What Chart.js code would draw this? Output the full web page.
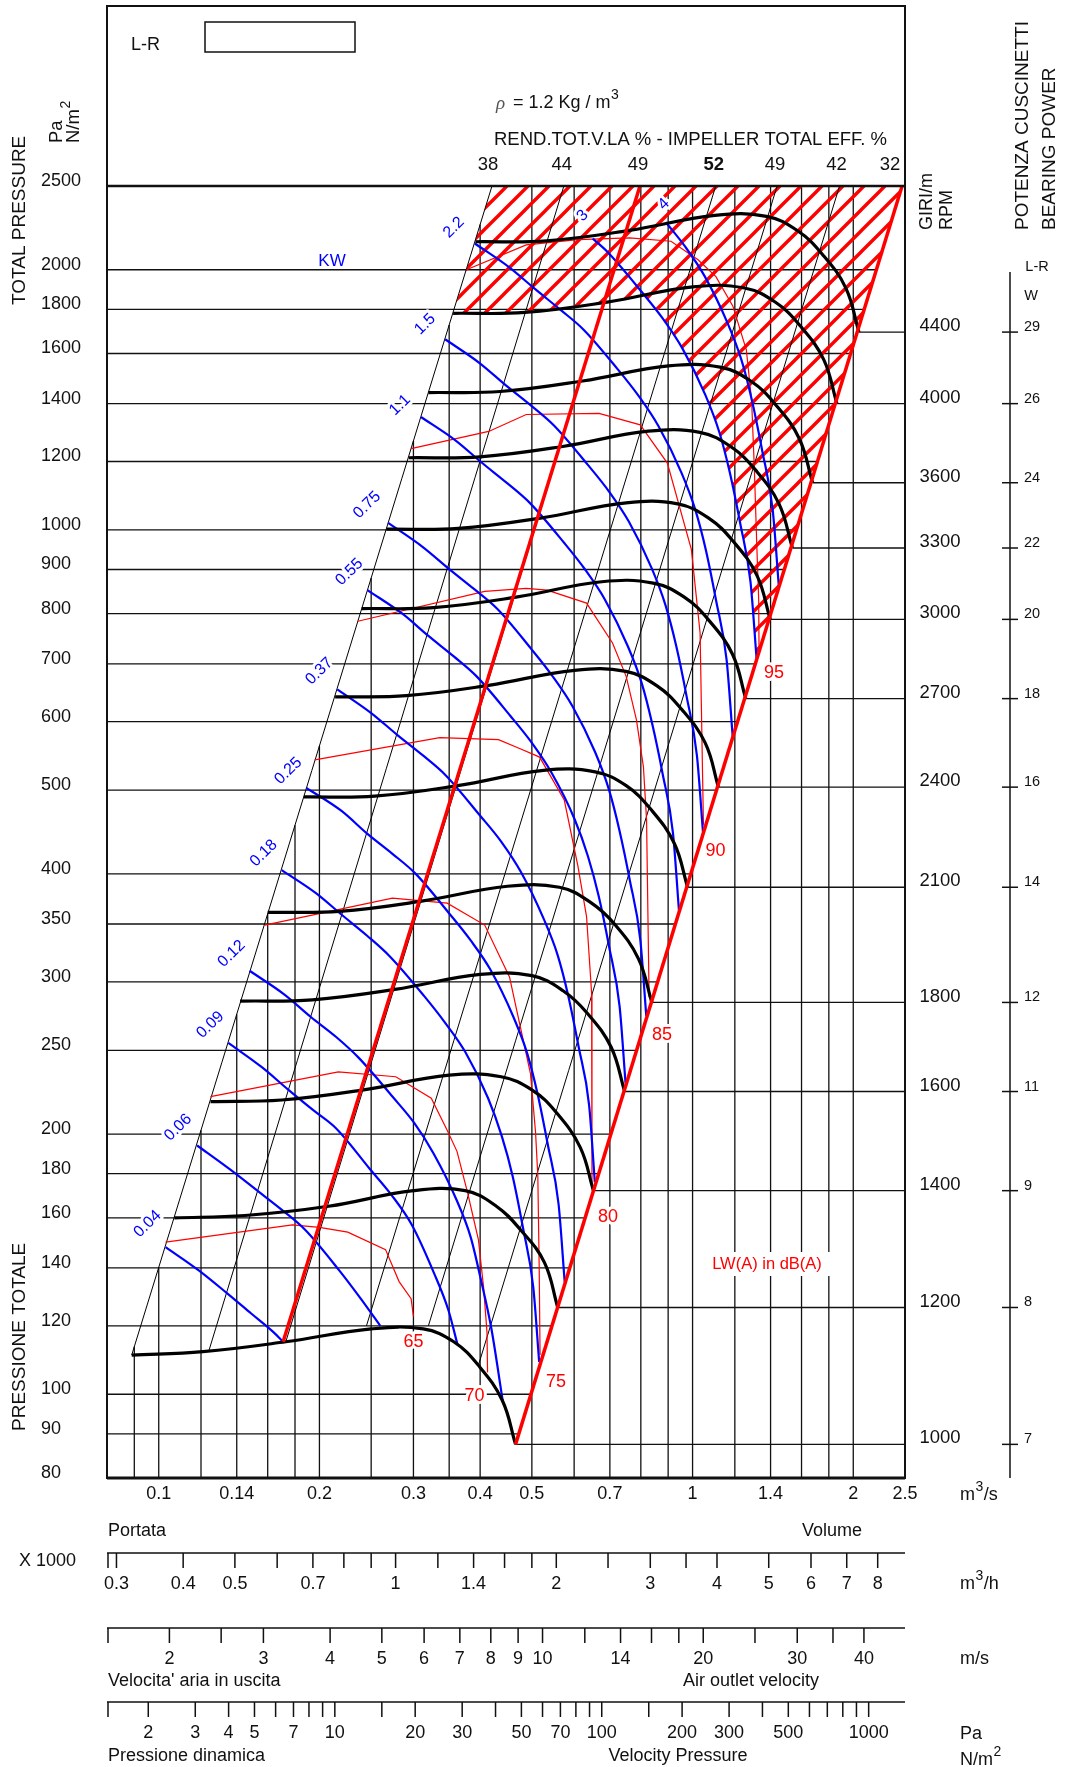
<!DOCTYPE html>
<html>
<head>
<meta charset="utf-8">
<script src="https://cdn.jsdelivr.net/npm/chart.js@4.4.0/dist/chart.umd.min.js"></script>
<style>
  html, body { margin: 0; padding: 0; background: #fff; }
  canvas { display: block; }
</style>
</head>
<body>
<canvas id="fan" width="1067" height="1767"></canvas>
<script>
// --- Data ---

const flowMin = 0.08, flowMax = 2.5, paMin = 80, paMax = 2500;

const paTicks = [80, 90, 100, 120, 140, 160, 180, 200, 250, 300, 350, 400, 500, 600, 700, 800, 900, 1000, 1200, 1400, 1600, 1800, 2000, 2500];
const flowGrid = [0.09, 0.1, 0.12, 0.14, 0.16, 0.18, 0.2, 0.25, 0.3, 0.35, 0.4, 0.5, 0.6, 0.7, 0.8, 0.9, 1, 1.2, 1.4, 1.6, 1.8, 2];
const flowLabels = [0.1, 0.14, 0.2, 0.3, 0.4, 0.5, 0.7, 1, 1.4, 2, 2.5];

// fan curves, one per speed (m3/s, Pa)
const rpm = [1000, 1200, 1400, 1600, 1800, 2100, 2400, 2700, 3000, 3300, 3600, 4000, 4400];
const bearingW = [7, 8, 9, 11, 12, 14, 16, 18, 20, 22, 24, 26, 29];
const curveFlow = [
  [0.089, 0.121, 0.173, 0.250, 0.313, 0.357, 0.397, 0.440, 0.466],
  [0.107, 0.145, 0.208, 0.300, 0.375, 0.429, 0.476, 0.528, 0.559],
  [0.125, 0.170, 0.242, 0.350, 0.438, 0.500, 0.555, 0.616, 0.652],
  [0.142, 0.194, 0.277, 0.400, 0.500, 0.572, 0.635, 0.704, 0.746],
  [0.160, 0.218, 0.311, 0.450, 0.563, 0.643, 0.714, 0.792, 0.839],
  [0.187, 0.254, 0.363, 0.526, 0.657, 0.751, 0.833, 0.924, 0.979],
  [0.214, 0.291, 0.415, 0.601, 0.750, 0.858, 0.952, 1.056, 1.118],
  [0.240, 0.327, 0.467, 0.676, 0.844, 0.965, 1.071, 1.188, 1.258],
  [0.267, 0.364, 0.519, 0.751, 0.938, 1.072, 1.190, 1.320, 1.398],
  [0.294, 0.400, 0.571, 0.826, 1.032, 1.180, 1.309, 1.452, 1.538],
  [0.320, 0.436, 0.622, 0.901, 1.126, 1.287, 1.428, 1.584, 1.678],
  [0.356, 0.485, 0.692, 1.001, 1.251, 1.430, 1.586, 1.760, 1.864],
  [0.392, 0.533, 0.761, 1.101, 1.376, 1.573, 1.745, 1.936, 2.050]
];
const curvePa = [
  [111, 112, 115, 119, 119, 115, 108, 98.4, 87.5],
  [160, 161, 165, 172, 172, 165, 155, 142, 126],
  [218, 219, 225, 234, 233, 225, 212, 193, 172],
  [285, 286, 294, 306, 305, 293, 276, 252, 224],
  [361, 362, 372, 387, 386, 371, 350, 319, 284],
  [491, 492, 506, 527, 525, 506, 476, 434, 386],
  [641, 643, 661, 688, 686, 660, 621, 567, 504],
  [811, 813, 836, 871, 868, 836, 787, 718, 638],
  [1002, 1004, 1032, 1075, 1072, 1032, 971, 886, 788],
  [1212, 1215, 1249, 1301, 1297, 1248, 1175, 1072, 953],
  [1442, 1446, 1487, 1548, 1543, 1486, 1398, 1276, 1134],
  [1781, 1785, 1835, 1911, 1905, 1834, 1726, 1575, 1400],
  [2155, 2160, 2221, 2312, 2306, 2219, 2089, 1906, 1694]
];

// absorbed power lines (kW)
const kw = ['0.04', '0.06', '0.09', '0.12', '0.18', '0.25', '0.37', '0.55', '0.75', '1.1', '1.5', '2.2', '3', '4'];
const kwFlow = [
  [0.103, 0.119, 0.134, 0.149, 0.164, 0.171],
  [0.118, 0.136, 0.153, 0.171, 0.188, 0.218, 0.239, 0.260],
  [0.135, 0.156, 0.175, 0.195, 0.215, 0.249, 0.273, 0.298, 0.328, 0.349, 0.363],
  [0.148, 0.172, 0.193, 0.215, 0.237, 0.274, 0.301, 0.327, 0.361, 0.384, 0.401, 0.420, 0.441],
  [0.170, 0.197, 0.221, 0.246, 0.271, 0.314, 0.344, 0.375, 0.414, 0.439, 0.460, 0.481, 0.503, 0.516],
  [0.189, 0.220, 0.246, 0.274, 0.303, 0.350, 0.384, 0.418, 0.462, 0.490, 0.513, 0.536, 0.561, 0.576],
  [0.216, 0.250, 0.280, 0.313, 0.345, 0.399, 0.438, 0.477, 0.526, 0.559, 0.585, 0.612, 0.640, 0.656],
  [0.246, 0.286, 0.320, 0.357, 0.394, 0.455, 0.500, 0.544, 0.601, 0.637, 0.667, 0.698, 0.730, 0.749],
  [0.269, 0.312, 0.350, 0.390, 0.431, 0.498, 0.546, 0.595, 0.657, 0.697, 0.729, 0.763, 0.798, 0.819],
  [0.310, 0.360, 0.403, 0.450, 0.496, 0.574, 0.629, 0.685, 0.756, 0.803, 0.840, 0.879, 0.919, 0.943],
  [0.344, 0.399, 0.447, 0.499, 0.550, 0.636, 0.698, 0.760, 0.839, 0.890, 0.932, 0.975, 1.019, 1.046],
  [0.391, 0.453, 0.508, 0.566, 0.625, 0.723, 0.793, 0.863, 0.953, 1.012, 1.059, 1.107, 1.158, 1.189],
  [0.650, 0.693, 0.801, 0.879, 0.957, 1.057, 1.122, 1.174, 1.228, 1.284, 1.318],
  [0.891, 0.968, 1.054, 1.163, 1.235, 1.292, 1.351, 1.413, 1.451]
];
const kwPa = [
  [148, 139, 131, 124, 118, 115],
  [194, 182, 172, 163, 155, 139, 129, 120],
  [255, 239, 225, 213, 203, 182, 170, 157, 138, 125, 114],
  [309, 290, 273, 259, 245, 221, 206, 190, 168, 152, 136, 119, 98.2],
  [404, 380, 358, 339, 321, 289, 269, 249, 220, 199, 179, 156, 133, 109],
  [503, 473, 445, 422, 400, 360, 335, 310, 273, 248, 222, 194, 166, 135],
  [654, 614, 579, 548, 520, 468, 436, 402, 355, 322, 289, 252, 216, 176],
  [852, 800, 754, 714, 677, 610, 567, 524, 463, 419, 377, 329, 281, 229],
  [1019, 956, 901, 854, 810, 729, 678, 626, 553, 501, 450, 393, 336, 274],
  [1351, 1269, 1196, 1132, 1074, 967, 900, 831, 734, 665, 597, 522, 446, 363],
  [1662, 1560, 1470, 1392, 1321, 1190, 1107, 1022, 902, 818, 734, 641, 548, 447],
  [2145, 2014, 1898, 1797, 1705, 1536, 1428, 1319, 1165, 1055, 948, 828, 708, 577],
  [2173, 2097, 1889, 1757, 1622, 1432, 1298, 1166, 1018, 870, 710],
  [2270, 2128, 1965, 1735, 1572, 1412, 1233, 1054, 860]
];

// sound power lines LW(A) dB(A)
const dbA = [65, 70, 75, 80, 85, 90, 95];
const dbFlow = [
  [0.103, 0.178, 0.200, 0.226, 0.266, 0.282, 0.297, 0.300],
  [0.125, 0.217, 0.278, 0.324, 0.347, 0.362, 0.379, 0.397, 0.406, 0.412, 0.413],
  [0.158, 0.274, 0.347, 0.408, 0.454, 0.497, 0.508, 0.513, 0.516, 0.518],
  [0.196, 0.336, 0.433, 0.473, 0.517, 0.575, 0.610, 0.633, 0.647, 0.648],
  [0.236, 0.408, 0.488, 0.534, 0.633, 0.708, 0.751, 0.785, 0.809, 0.820, 0.829],
  [0.297, 0.415, 0.488, 0.668, 0.798, 0.897, 0.995, 1.033, 1.048],
  [0.377, 0.488, 0.610, 0.762, 0.911, 1.024, 1.106, 1.190, 1.261, 1.290, 1.305, 1.320, 1.330, 1.332]
];
const dbPa = [
  [150, 157, 156, 154, 147, 135, 129, 123],
  [221, 236, 233, 220, 202, 191, 171, 151, 133, 118, 106],
  [349, 375, 370, 349, 304, 235, 201, 179, 141, 111],
  [542, 575, 572, 559, 546, 487, 408, 357, 291, 173],
  [784, 849, 856, 852, 823, 740, 677, 603, 532, 462, 288],
  [1242, 1300, 1360, 1364, 1323, 1195, 949, 760, 456],
  [2000, 2137, 2167, 2177, 2158, 2054, 1964, 1815, 1616, 1413, 1184, 949, 830, 730]
];

// impeller total efficiency lines (bottom / top ends)
const effValues = [38, 44, 49, 52, 49, 42, 32];
const effFlow = [[0.089, 0.421], [0.124, 0.574], [0.173, 0.797], [0.245, 1.105], [0.320, 1.44], [0.397, 1.885], [0.466, 2.469]];
const effPa = [[111, 2500], [112, 2500], [115, 2500], [120, 2500], [120, 2500], [108, 2500], [87.5, 2500]];

// thick red system lines
const systemFlow = [[0.171, 0.797], [0.466, 2.469]];
const systemPa = [[115, 2500], [87.5, 2500]];

// hatched (not permitted) zone outline
const hatchFlow = [0.356, 0.421, 2.469, 1.318, 1.284, 1.228, 1.174, 1.122, 1.057, 0.957, 0.879, 0.81, 0.692, 0.485, 0.356];
const hatchPa = [1781, 2500, 2500, 712, 870, 1018, 1166, 1298, 1432, 1622, 1757, 1870, 1835, 1785, 1781];

// secondary scales under the chart
const volTicks = [0.3, 0.4, 0.5, 0.6, 0.7, 0.8, 0.9, 1, 1.2, 1.4, 1.6, 1.8, 2, 2.5, 3, 3.5, 4, 5, 6, 7, 8];
const volLabels = [0.3, 0.4, 0.5, 0.7, 1, 1.4, 2, 3, 4, 5, 6, 7, 8];
const velTicks = [2, 2.5, 3, 4, 5, 6, 7, 8, 9, 10, 12, 14, 16, 18, 20, 25, 30, 35, 40];
const velLabels = [2, 3, 4, 5, 6, 7, 8, 9, 10, 14, 20, 30, 40];
const dynTicks = [2, 3, 4, 5, 6, 7, 8, 9, 10, 15, 20, 30, 40, 50, 60, 70, 80, 90, 100, 150, 200, 300, 400, 500, 600, 700, 800, 900, 1000];
const dynLabels = [2, 3, 4, 5, 7, 10, 20, 30, 50, 70, 100, 200, 300, 500, 1000];
const volPerFlow = 3.6;      // x1000 m3/h per m3/s
const velPerFlow = 19.1;     // m/s per m3/s
const dynPerFlow2 = 218.9;   // Pa per (m3/s)^2

// label placement (pixels, relative to line ends)
const kwLabelShift = [[-18, -23], [-19, -18], [-18, -18], [-18, -17], [-18, -17], [-18, -17], [-18, -18], [-18, -18], [-21, -18], [-21, -12], [-20, -15], [-21, -16], [-10, -23], [-2, -18]];
const dbLabelShift = [[0, 25], [-13, 24], [16, 27], [16, 29], [13, 38], [12, 26], [15, 25]];

// --- helpers ---
const F = '"Liberation Sans", Arial, sans-serif';
const RED = '#ff0000', BLUE = '#0000ff';

function pts(xs, ys) { return xs.map((x, i) => ({ x: x, y: ys[i] })); }
// position along a straight log-log segment
function logLerp(a0, a1, b0, b1, v) {
  const t = (Math.log(v) - Math.log(b0)) / (Math.log(b1) - Math.log(b0));
  return Math.exp(Math.log(a0) + t * (Math.log(a1) - Math.log(a0)));
}
function ds(data, color, width, order, extra) {
  return Object.assign({ data: data, borderColor: color, borderWidth: width, pointRadius: 0,
    fill: false, tension: 0, order: order }, extra || {});
}

const canvas = document.getElementById('fan');
const hatch = (function () {
  const c = document.createElement('canvas');
  c.width = 21; c.height = 21;
  const g = c.getContext('2d');
  g.strokeStyle = RED; g.lineWidth = 3.4;
  g.beginPath();
  [0, 21, 42].forEach(k => { g.moveTo(k - 25, 25); g.lineTo(k + 4, -4); });
  g.stroke();
  return canvas.getContext('2d').createPattern(c, 'repeat');
})();

// --- datasets ---
const datasets = [];
const lb = 0, rb = 6;

paTicks.forEach(p => {
  if (p <= paMin || p >= paMax) return;
  const qEnd = logLerp(effFlow[rb][0], effFlow[rb][1], effPa[rb][0], effPa[rb][1], p);
  datasets.push(ds([{ x: flowMin, y: p }, { x: qEnd, y: p }], '#111', 1.3, 20));
});
flowGrid.forEach(q => {
  const top = q < effFlow[lb][1] ? logLerp(effPa[lb][0], effPa[lb][1], effFlow[lb][0], effFlow[lb][1], q) : paMax;
  datasets.push(ds([{ x: q, y: paMin }, { x: q, y: top }], '#111', 1.3, 20));
});
curveFlow.forEach((qs, i) => {
  const n = qs.length - 1;
  datasets.push(ds([{ x: qs[n], y: curvePa[i][n] }, { x: flowMax, y: curvePa[i][n] }], '#111', 1.3, 20));
});

datasets.push(ds(pts(hatchFlow, hatchPa), 'rgba(0,0,0,0)', 0, 15, { fill: 'shape', backgroundColor: hatch }));

effFlow.forEach((qs, i) => datasets.push(ds(pts(qs, effPa[i]), '#000', 1, 12)));
dbFlow.forEach((qs, i) => datasets.push(ds(pts(qs, dbPa[i]), RED, 1.2, 10)));
kwFlow.forEach((qs, i) => datasets.push(ds(pts(qs, kwPa[i]), BLUE, 2.2, 8, { cubicInterpolationMode: 'monotone' })));
curveFlow.forEach((qs, i) => datasets.push(ds(pts(qs, curvePa[i]), '#000', 3.2, 6, { tension: 0.4 })));
systemFlow.forEach((qs, i) => datasets.push(ds(pts(qs, systemPa[i]), RED, 3.5, 4)));

// --- text, frame and side scales ---
const decorations = {
  id: 'decorations',
  afterDatasetsDraw(chart) {
    const ctx = chart.ctx, ca = chart.chartArea;
    const X = v => chart.scales.x.getPixelForValue(v);
    const Y = v => chart.scales.y.getPixelForValue(v);

    function txt(s, x, y, size, align, color, weight) {
      ctx.font = (weight ? weight + ' ' : '') + size + 'px ' + F;
      ctx.textAlign = align || 'center';
      ctx.textBaseline = 'middle';
      ctx.fillStyle = color || '#111';
      ctx.fillText(s, x, y);
    }
    function halo(s, x, y, size, color, rot) {
      ctx.save();
      ctx.translate(x, y);
      if (rot) ctx.rotate(rot);
      ctx.font = size + 'px ' + F;
      ctx.textAlign = 'center'; ctx.textBaseline = 'middle';
      ctx.lineJoin = 'round'; ctx.lineWidth = 6; ctx.strokeStyle = '#fff';
      ctx.strokeText(s, 0, 0);
      ctx.fillStyle = color; ctx.fillText(s, 0, 0);
      ctx.restore();
    }
    function unit(base, sup, tail, x, y, size) {
      ctx.textAlign = 'left'; ctx.textBaseline = 'middle'; ctx.fillStyle = '#111';
      ctx.font = size + 'px ' + F;
      ctx.fillText(base, x, y);
      let w = ctx.measureText(base).width;
      ctx.font = Math.round(size * 0.78) + 'px ' + F;
      ctx.fillText(sup, x + w + 0.5, y - size * 0.45);
      w += ctx.measureText(sup).width + 1;
      if (tail) { ctx.font = size + 'px ' + F; ctx.fillText(tail, x + w, y); }
    }
    function vtext(s, x, yBottom, size) {
      ctx.save(); ctx.translate(x, yBottom); ctx.rotate(-Math.PI / 2);
      txt(s, 0, 0, size, 'left');
      ctx.restore();
    }

    ctx.save();
    // frame
    ctx.strokeStyle = '#111';
    ctx.lineWidth = 2;
    ctx.strokeRect(ca.left, 6, ca.right - ca.left, ca.bottom - 6);
    ctx.lineWidth = 2.5;
    ctx.beginPath(); ctx.moveTo(ca.left, ca.top); ctx.lineTo(ca.right, ca.top); ctx.stroke();
    ctx.lineWidth = 3;
    ctx.beginPath(); ctx.moveTo(ca.left, ca.bottom); ctx.lineTo(ca.right, ca.bottom); ctx.stroke();

    // header
    txt('L-R', 131, 45, 18, 'left');
    ctx.lineWidth = 1.5;
    ctx.strokeRect(205, 22, 150, 30);
    ctx.font = 'italic 19px "Liberation Serif", serif';
    ctx.textAlign = 'left'; ctx.fillStyle = '#555';
    ctx.fillText('\u03C1', 496, 104);
    unit(' = 1.2 Kg / m', '3', '', 508, 103, 18);
    txt('REND.TOT.V.LA % - IMPELLER TOTAL EFF. %', 494, 140, 18.5, 'left');
    const effShift = [-4, -2, -2, -2, -2, -3, -12];
    effValues.forEach((v, i) => txt(String(v), X(effFlow[i][1]) + effShift[i], 165, 18.5, 'center', '#111', i === 3 ? 'bold' : ''));

    // left pressure scale
    paTicks.forEach(p => txt(String(p), 41, Y(p) - 5, 18, 'left'));
    vtext('TOTAL PRESSURE', 20, 305, 19);
    vtext('PRESSIONE TOTALE', 20, 1431, 19);
    vtext('Pa', 57, 143, 18.5);
    ctx.save(); ctx.translate(74, 143); ctx.rotate(-Math.PI / 2); unit('N/m', '2', '', 0, 0, 18.5); ctx.restore();

    // flow scale
    flowLabels.forEach(q => txt(String(q), X(q), 1494, 18));
    unit('m', '3', '/s', 960, 1495, 18);
    txt('Portata', 108, 1531, 18, 'left');
    txt('Volume', 832, 1531, 18);
    txt('X 1000', 19, 1561, 18, 'left');

    // secondary scales
    function subScale(y, ticks, labels, toFlow) {
      ctx.strokeStyle = '#111'; ctx.lineWidth = 1.5;
      ctx.beginPath(); ctx.moveTo(ca.left, y); ctx.lineTo(ca.right, y);
      ctx.moveTo(ca.left + 1, y); ctx.lineTo(ca.left + 1, y + 15);
      ticks.forEach(v => { const x = X(toFlow(v)); ctx.moveTo(x, y); ctx.lineTo(x, y + 15); });
      ctx.stroke();
      labels.forEach(v => txt(String(v), X(toFlow(v)), y + 31, 18));
    }
    subScale(1553, volTicks, volLabels, v => v / volPerFlow);
    unit('m', '3', '/h', 960, 1584, 18);
    subScale(1628, velTicks, velLabels, v => v / velPerFlow);
    txt('m/s', 960, 1659, 18, 'left');
    txt("Velocita' aria in uscita", 108, 1681, 18, 'left');
    txt('Air outlet velocity', 751, 1681, 18);
    subScale(1702, dynTicks, dynLabels, v => Math.sqrt(v / dynPerFlow2));
    txt('Pa', 960, 1734, 18, 'left');
    unit('N/m', '2', '', 960, 1760, 18);
    txt('Pressione dinamica', 108, 1756, 18, 'left');
    txt('Velocity Pressure', 678, 1756, 18);

    // speed labels and bearing power scale
    ctx.strokeStyle = '#111'; ctx.lineWidth = 1.5;
    ctx.beginPath(); ctx.moveTo(1010, 272); ctx.lineTo(1010, ca.bottom); ctx.stroke();
    curveFlow.forEach((qs, i) => {
      const p = curvePa[i][qs.length - 1];
      const y = Y(p);
      txt(String(rpm[i]), 940, y - 6, 18.5);
      ctx.beginPath(); ctx.moveTo(1002, y); ctx.lineTo(1018, y); ctx.stroke();
      txt(String(bearingW[i]), 1024, y - 5, 14.5, 'left');
    });
    vtext('GIRI/m', 927, 230, 18);
    vtext('RPM', 947, 230, 18);
    vtext('POTENZA CUSCINETTI', 1023, 230, 19);
    vtext('BEARING POWER', 1050, 230, 19);
    txt('L-R', 1037, 267, 14.5);
    txt('W', 1031, 296, 14.5);

    // power labels
    kw.forEach((s, i) => {
      const x = X(kwFlow[i][0]) + kwLabelShift[i][0];
      const y = Y(kwPa[i][0]) + kwLabelShift[i][1];
      halo(s, x, y, 16, BLUE, -0.77);
    });
    halo('KW', 332, 261, 17, BLUE, 0);

    // noise labels
    dbA.forEach((v, i) => {
      const n = dbFlow[i].length - 1;
      halo(String(v), X(dbFlow[i][n]) + dbLabelShift[i][0], Y(dbPa[i][n]) + dbLabelShift[i][1], 18, RED, 0);
    });
    ctx.fillStyle = '#fff';
    ctx.fillRect(700, 1252, 134, 24);
    txt('LW(A) in dB(A)', 767, 1264, 16.5, 'center', RED);
    ctx.restore();
  }
};

new Chart(canvas, {
  type: 'line',
  data: { datasets: datasets },
  options: {
    responsive: false,
    devicePixelRatio: 1,
    animation: false,
    events: [],
    layout: { padding: { left: 107, right: 162, top: 186, bottom: 289 } },
    scales: {
      x: { type: 'logarithmic', min: flowMin, max: flowMax, bounds: 'data', display: false },
      y: { type: 'logarithmic', min: paMin, max: paMax, bounds: 'data', display: false }
    },
    plugins: { legend: { display: false }, tooltip: { enabled: false } }
  },
  plugins: [decorations]
});
</script>
</body>
</html>
